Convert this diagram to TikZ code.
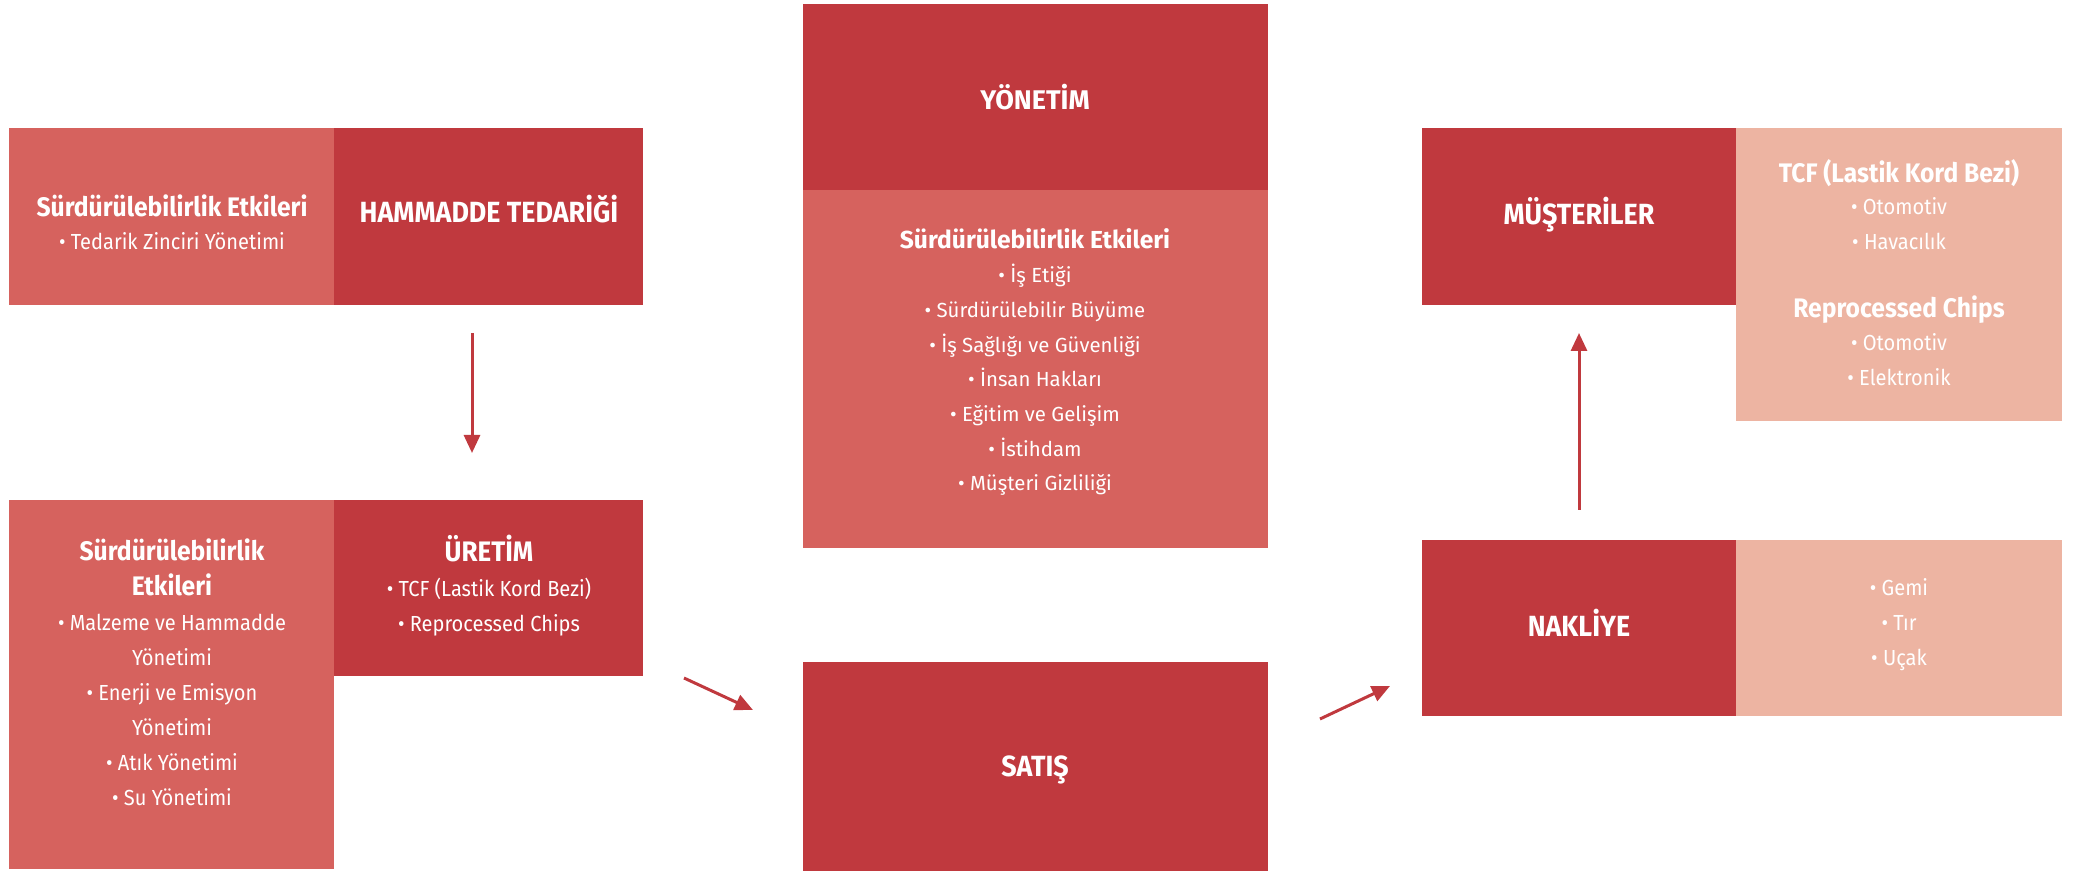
\documentclass[tikz,border=0pt]{standalone}
\usepackage{fontspec}
\setmainfont{Fira Sans}
\newfontfamily\condf[FakeStretch=0.92]{Fira Sans}
\usetikzlibrary{arrows.meta,fit}
\definecolor{dk}{HTML}{C0393E}
\definecolor{lt}{HTML}{D6625E}
\definecolor{pc}{HTML}{EDB4A2}
\newcommand{\chead}[1]{{\bfseries\fontsize{13.4}{17.5}\selectfont #1}}
\tikzset{
  box/.style={fill=#1, draw=none, inner sep=0pt, outer sep=0pt},
  txt/.style={text=white, align=center, inner sep=0pt, anchor=center},
  ctitle/.style={txt, font=\condf\bfseries\fontsize{14.6}{18}\selectfont},
  cbody/.style={txt, font=\condf\fontsize{10.9}{17.5}\selectfont},
  mtitle/.style={txt, font=\bfseries\fontsize{13.5}{17.4}\selectfont},
  mbody/.style={txt, font=\fontsize{10.2}{17.35}\selectfont},
  arr/.style={draw=dk, line width=1.5pt, -{Triangle[length=9pt,width=8pt]}},
}
\begin{document}
\begin{tikzpicture}[x=0.5pt,y=-0.5pt]
\useasboundingbox (0,0) rectangle (2089,871);
% boxes
\node[box=lt, fit={(9,128) (334,305)}] (hamL) {};
\node[box=dk, fit={(334,128) (643,305)}] (hamD) {};
\node[box=lt, fit={(9,500) (334,869)}] (uretL) {};
\node[box=dk, fit={(334,500) (643,676)}] (uretD) {};
\node[box=dk, fit={(803,4) (1268,190)}] (yonD) {};
\node[box=lt, fit={(803,190) (1268,548)}] (yonL) {};
\node[box=dk, fit={(803,662) (1268,871)}] (satD) {};
\node[box=dk, fit={(1422,540) (1736,716)}] (nakD) {};
\node[box=pc, fit={(1736,540) (2062,716)}] (nakP) {};
\node[box=dk, fit={(1422,128) (1736,305)}] (musD) {};
\node[box=pc, fit={(1736,128) (2062,421)}] (musP) {};
% texts
\node[cbody] (t1) at (172,222) {\chead{Sürdürülebilirlik Etkileri}\\[-1pt] • Tedarik Zinciri Yönetimi};
\node[ctitle] (t2) at (489,209.5) {HAMMADDE TEDARİĞİ};
\node[cbody] (t3) at (172,672) {\chead{Sürdürülebilirlik}\\\chead{Etkileri}\\• Malzeme ve Hammadde\\Yönetimi\\• Enerji ve Emisyon\\Yönetimi\\• Atık Yönetimi\\• Su Yönetimi};
\node[cbody] (t4) at (489,586) {{\bfseries\fontsize{14.1}{17.5}\selectfont ÜRETİM}\\• TCF (Lastik Kord Bezi)\\• Reprocessed Chips};
\node[mtitle] (t5) at (1035,97.5) {YÖNETİM};
\node[mbody] (t6) at (1035,362) {{\bfseries\fontsize{12.3}{17.35}\selectfont Sürdürülebilirlik Etkileri}\\• İş Etiği\\• Sürdürülebilir Büyüme\\• İş Sağlığı ve Güvenliği\\• İnsan Hakları\\• Eğitim ve Gelişim\\• İstihdam\\• Müşteri Gizliliği};
\node[ctitle] (t7) at (1035,769.5) {SATIŞ};
\node[ctitle] (t8) at (1579,622.5) {NAKLİYE};
\node[cbody] (t9) at (1899,624.5) {• Gemi\\• Tır\\• Uçak};
\node[ctitle] (t10) at (1579,215) {MÜŞTERİLER};
\node[cbody] (t11) at (1899,272.5) {\chead{TCF (Lastik Kord Bezi)}\\[-1.2pt]• Otomotiv\\• Havacılık\\[16.5pt]\chead{Reprocessed Chips}\\[-1.2pt]• Otomotiv\\• Elektronik};
% arrow ends
\coordinate (a1s) at (472,333);
\coordinate (a1e) at (472,453);
\coordinate (a2s) at (684,678);
\coordinate (a2e) at (753,710);
\coordinate (a3s) at (1320,719);
\coordinate (a3e) at (1390,686);
\coordinate (a4s) at (1579,510);
\coordinate (a4e) at (1579,333);
\draw[arr] (a1s) -- (a1e);
\draw[arr] (a2s) -- (a2e);
\draw[arr] (a3s) -- (a3e);
\draw[arr] (a4s) -- (a4e);
\end{tikzpicture}
\end{document}
